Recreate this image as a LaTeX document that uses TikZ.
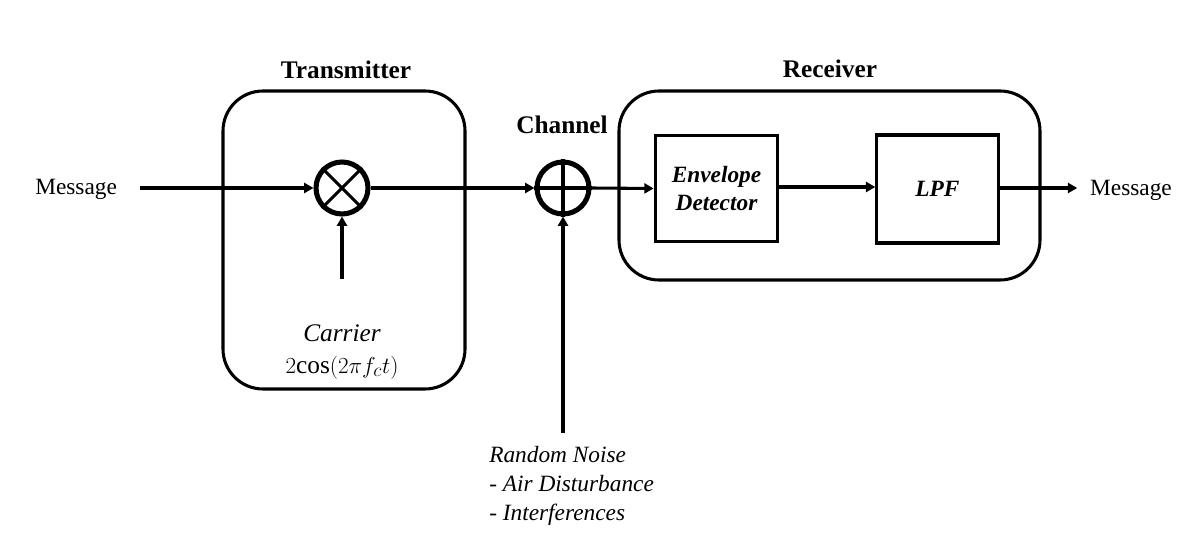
\documentclass[tikz,border=0pt]{standalone}
\usepackage{fontspec}
\setmainfont{Liberation Serif}
\usetikzlibrary{arrows.meta}
\begin{document}
\begin{tikzpicture}[x=0.75pt,y=-0.75pt,
  conn/.style={line width=2.3pt,-{Triangle[length=7pt,width=7.5pt]}},
  group/.style={draw,line width=2.3pt,rounded corners=30pt},
  blockbox/.style={draw,line width=2.3pt,font=\fontsize{17.5}{21}\selectfont\bfseries\itshape,align=center},
  opcircle/.style={draw,circle,line width=3.8pt,minimum size=39pt,inner sep=0pt},
  lbl/.style={font=\fontsize{17.5}{20}\selectfont},
  title/.style={font=\fontsize{19}{22}\selectfont\bfseries}]
\useasboundingbox (0,0) rectangle (1189,559);
% groups
\draw[group] (223,91) rectangle (465,389);
\draw[group] (619,91) rectangle (1040,280);
\node[title] (ttx) at (346,70) {Transmitter};
\node[title] (trx) at (830,69) {Receiver};
\node[title] (tch) at (562,125) {Channel};
% operators
\node[opcircle] (mul) at (342,188) {};
\draw[line width=2.3pt] (mul.north west) -- (mul.south east) (mul.north east) -- (mul.south west);
\node[opcircle] (add) at (563,188) {};
\draw[line width=2.3pt] (add.north) -- (add.south) (add.west) -- (add.east);
% blocks
\node[blockbox,minimum width=92pt,minimum height=80pt] (env) at (716.5,188.5) {Envelope\\[0pt]Detector};
\node[blockbox,minimum width=91pt,minimum height=81pt] (lpf) at (937.5,189) {LPF};
% texts
\node[lbl,anchor=west,inner sep=0pt] (min) at (35,189) {Message};
\node[lbl,align=center,inner sep=0pt] (mout) at (1131,190) {Message};
\node[align=center,inner sep=0pt,font=\fontsize{19}{22}\selectfont] (car) at (342,352) {$\mathit{Carrier}$\\[2pt]$2\mathrm{cos}(2\pi f_c t)$};
\node[lbl,anchor=north west,align=left,inner sep=0pt,font=\fontsize{17.5}{21.7}\selectfont\itshape] (noise) at (489,446) {Random Noise\\- Air Disturbance\\- Interferences};
% free ends
\coordinate (minend) at (140,188);
\coordinate (carend) at (342,279);
\coordinate (noiseend) at (563,433);
% connectors
\draw[conn] (minend) -- (mul.west);
\draw[conn] (carend) -- (mul.south);
\draw[conn] (mul.east) -- (add.west);
\draw[conn] (noiseend) -- (add.south);
\draw[conn] (add.east) -- (env.west);
\draw[conn] (env.east |- 0,187) -- (lpf.west |- 0,187);
\draw[conn] (lpf.east |- 0,188) -- ([xshift=-9.5pt]mout.west |- 0,188);
\end{tikzpicture}
\end{document}
